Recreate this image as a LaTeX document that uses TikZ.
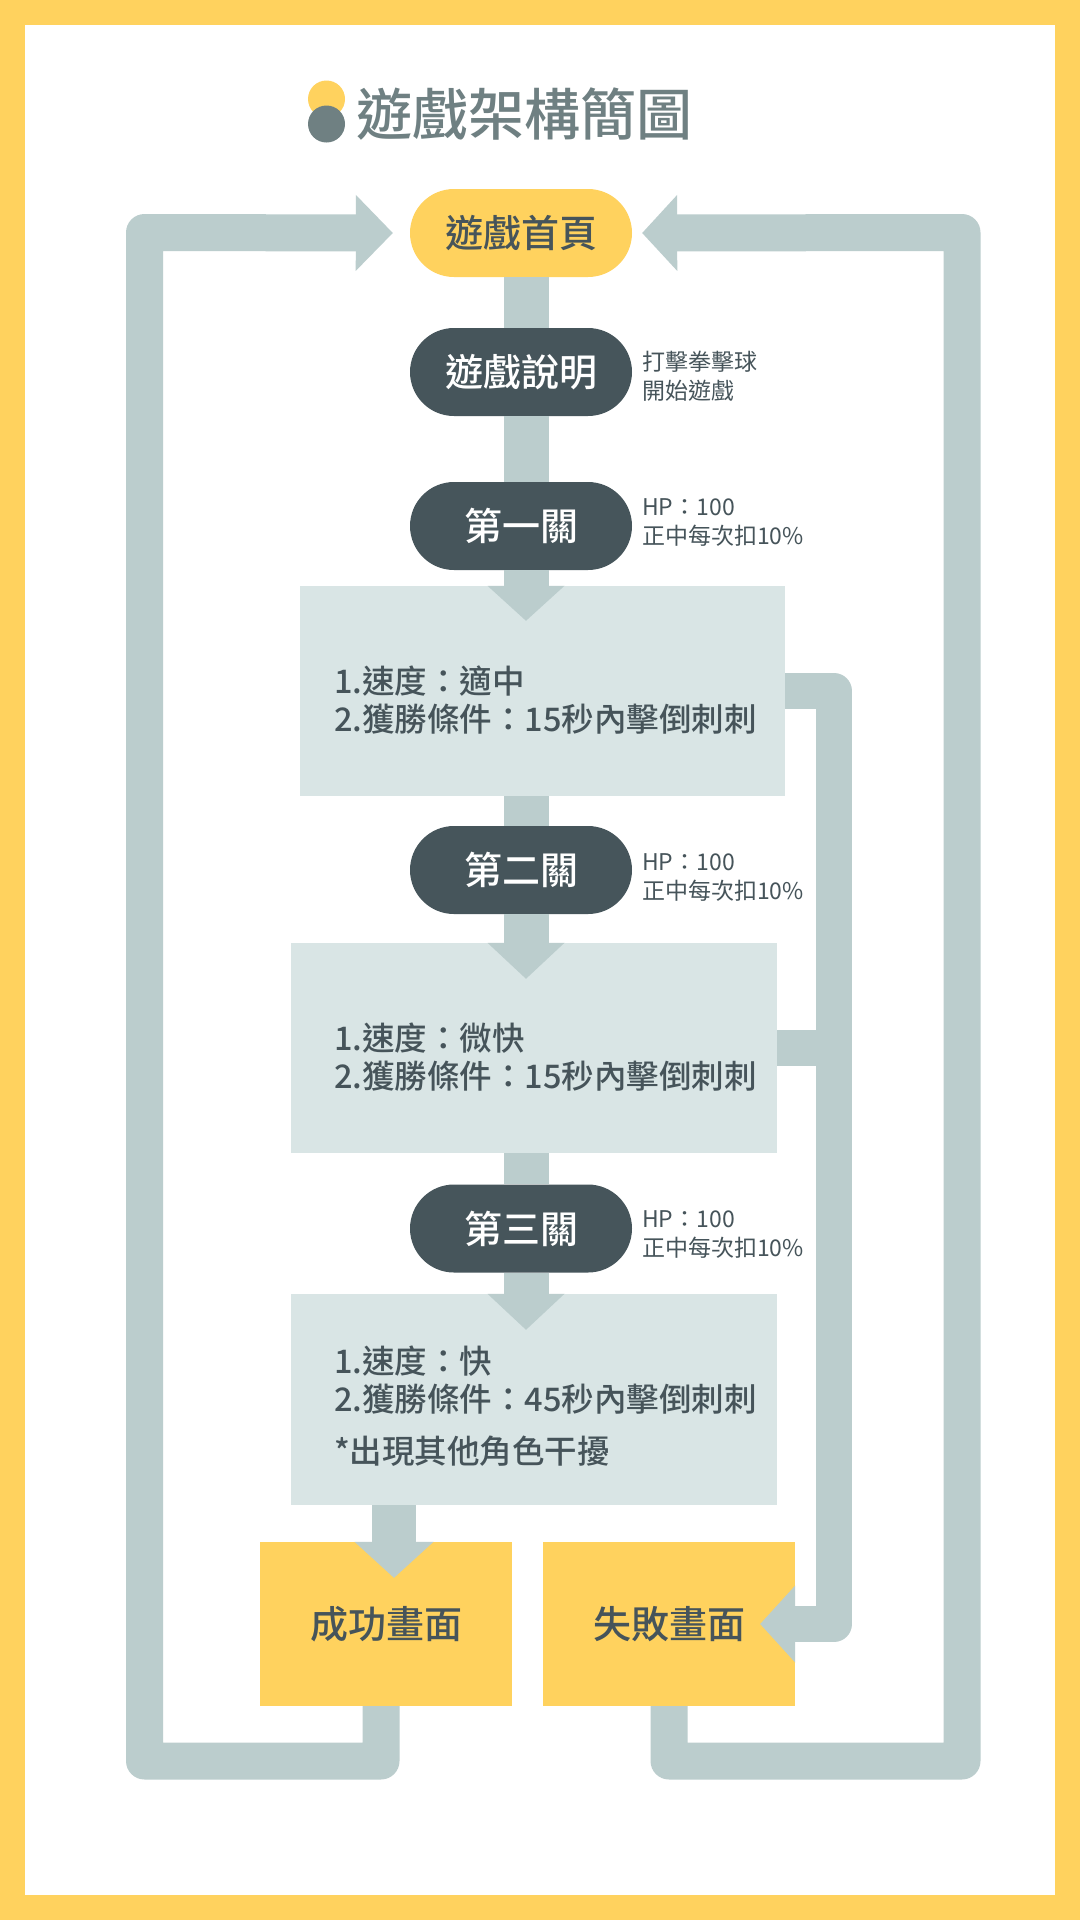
\documentclass[tikz,border=0pt]{standalone}
\usepackage{fontspec}
\setmainfont{Noto Sans CJK TC}
\newfontfamily\medfont{Noto Sans CJK TC Medium}
\usepackage{tikz}
\usetikzlibrary{arrows.meta}

\definecolor{frameyellow}{HTML}{FFD25E}
\definecolor{bargray}{HTML}{BBCDCD}
\definecolor{boxgray}{HTML}{D9E5E5}
\definecolor{pilldark}{HTML}{46555B}
\definecolor{textdark}{HTML}{46545A}
\definecolor{titlegray}{HTML}{6F8082}

\begin{document}
\begin{tikzpicture}[x=1pt,y=-1pt,
    pill/.style={rectangle, rounded corners=44pt, minimum width=222pt, minimum height=88pt, inner sep=0pt, font=\medfont\fontsize{38}{40}\selectfont},
    stage/.style={pill, fill=pilldark, text=white},
    infobox/.style={fill=boxgray, inner sep=0pt},
    endbox/.style={fill=frameyellow, text=textdark, minimum width=252pt, minimum height=164pt, inner sep=0pt, font=\medfont\fontsize{38}{40}\selectfont},
    note/.style={anchor=west, align=left, text=textdark, inner sep=0pt, font=\fontsize{23}{29}\selectfont},
    rule/.style={anchor=west, align=left, text=textdark, inner sep=0pt, font=\medfont\fontsize{32.5}{38}\selectfont},
    flow/.style={draw=bargray, line width=45pt},
    loopbar/.style={draw=bargray, line width=37pt, line join=round}]
    % Draw frame
    \fill[frameyellow] (0,0) rectangle (1080,1920);
    \fill[white] (25,25) rectangle (1055,1895);

    % Title
    \fill[frameyellow] (326.5,99) circle[radius=18.5pt];
    \fill[titlegray] (326.5,124) circle[radius=18.5pt];
    \node[anchor=west, inner sep=0pt, text=titlegray, font=\medfont\fontsize{56}{60}\selectfont] (title) at (356,114) {遊戲架構簡圖};

    % Main steps
    \node[pill, fill=frameyellow, text=textdark] (home) at (521,233) {遊戲首頁};
    \node[stage] (intro) at (521,372) {遊戲說明};
    \node[stage] (lv1) at (521,526) {第一關};
    \node[infobox, minimum width=485pt, minimum height=210pt] (box1) at (542.5,691) {};
    \node[stage] (lv2) at (521,870) {第二關};
    \node[infobox, minimum width=486pt, minimum height=210pt] (box2) at (534,1048) {};
    \node[stage] (lv3) at (521,1228.5) {第三關};
    \node[infobox, minimum width=486pt, minimum height=211pt] (box3) at (534,1399.5) {};
    \node[endbox] (win) at (386,1624) {成功畫面};
    \node[endbox] (lose) at (669,1624) {失敗畫面};

    % Label notes
    \node[note] (introtxt) at (642,376.5) {打擊拳擊球\\開始遊戲};
    \node[note] (lv1txt) at (642,522.5) {HP：100\\正中每次扣10\%};
    \node[note] (lv2txt) at (642,877.5) {HP：100\\正中每次扣10\%};
    \node[note] (lv3txt) at (642,1235) {HP：100\\正中每次扣10\%};

    % Stage rules
    \node[rule] (rule1) at (334,700) {1.速度：適中\\2.獲勝條件：15秒內擊倒刺刺};
    \node[rule] (rule2) at (334,1057) {1.速度：微快\\2.獲勝條件：15秒內擊倒刺刺};
    \node[rule] (rule3) at (334,1406) {1.速度：快\\2.獲勝條件：45秒內擊倒刺刺\\[14pt]*出現其他角色干擾};

    % Draw main flow
    \coordinate (spine) at (526,0);
    \draw[flow] (home.south -| spine) -- (intro.north -| spine);
    \draw[flow] (intro.south -| spine) -- (lv1.north -| spine);
    \draw[flow, -{Triangle[width=77pt,length=35pt,line width=0pt]}] (lv1.south -| spine) -- ([yshift=-35pt]box1.north -| spine);
    \draw[flow] (box1.south -| spine) -- (lv2.north -| spine);
    \draw[flow, -{Triangle[width=77pt,length=36pt,line width=0pt]}] (lv2.south -| spine) -- ([yshift=-36pt]box2.north -| spine);
    \draw[flow] (box2.south -| spine) -- (lv3.north -| spine);
    \draw[flow, -{Triangle[width=77pt,length=36pt,line width=0pt]}] (lv3.south -| spine) -- ([yshift=-36pt]box3.north -| spine);
    \draw[flow, line width=44pt, -{Triangle[width=79pt,length=36pt,line width=0pt]}] ([xshift=8pt]win.north |- box3.south) -- ([xshift=8pt,yshift=-36pt]win.north);

    % Draw fail path
    \coordinate (rc) at (834,691);
    \draw[loopbar, line width=36pt, -{Triangle[width=77pt,length=35pt,line width=0pt]}] (box1.east) -- (box1.east -| rc) -- (rc |- lose.east) -- ([xshift=-35pt]lose.east);
    \draw[loopbar, line width=36pt] (box2.east) -- (box2.east -| rc);

    % Draw loops back home
    \coordinate (tl) at (144.5,232.5);
    \coordinate (bl) at (144.5,1761);
    \coordinate (tr) at (962,232.5);
    \coordinate (br) at (962,1761);
    \draw[loopbar, -{Triangle[width=76pt,length=37pt,line width=0pt]}] ([xshift=-5pt]win.south) -- ([xshift=-5pt]win.south |- bl) -- (bl) -- (tl) -- ([xshift=-17pt]home.west);
    \draw[loopbar, -{Triangle[width=76pt,length=35pt,line width=0pt]}] (lose.south) -- (lose.south |- br) -- (br) -- (tr) -- ([xshift=10pt]home.east);
\end{tikzpicture}
\end{document}
